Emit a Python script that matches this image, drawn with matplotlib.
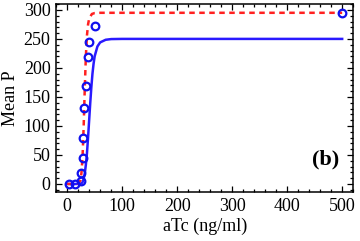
import matplotlib
matplotlib.use('Agg')
import matplotlib.pyplot as plt
from matplotlib.ticker import MultipleLocator

plt.rcParams['font.family'] = ['Liberation Serif', 'DejaVu Serif']

# measured points (open circles)
x_exp = [2.5, 14.5, 25, 25.5, 29.5, 29.7, 31, 34.5, 37, 40.5, 51, 500]
y_exp = [0, 0, 5, 19, 45, 80, 131, 169, 219, 245, 272, 295]

# red dashed curve
x_red = [0, 10, 20, 24, 26, 28, 30, 32, 34, 36, 38, 40, 45, 50, 60, 80, 500]
y_red = [0, 0, 0.5, 6, 19, 47, 99, 164, 220, 256, 275, 285, 293, 294.5, 295, 295, 295]

# blue solid curve
x_blue = [0, 20, 26, 28, 30, 32, 34, 36, 38, 40, 42, 44, 46, 48, 50, 55, 60, 70, 80, 100, 500]
y_blue = [0, 0, 1, 3, 9, 18, 33, 53, 80, 110, 140, 167, 190, 207, 220, 237, 244, 248.5, 249.7, 250, 250]

fig = plt.figure(figsize=(3.6, 2.41), dpi=100)
ax = fig.add_axes([0.156, 0.203, 0.825, 0.78])

ax.plot(x_blue, y_blue, color='#2a1aff', lw=1.8, zorder=2)
ax.plot(x_red, y_red, color='#ff2020', lw=1.8, ls=(0, (2.2, 1.8)), zorder=3)
ax.plot(x_exp, y_exp, 'o', ms=5.5, mfc='none', mec='#1010ee', mew=1.6, zorder=4)

ax.set_xlim(-20, 520)
ax.set_ylim(-14, 310)
ax.xaxis.set_major_locator(MultipleLocator(100))
ax.xaxis.set_minor_locator(MultipleLocator(20))
ax.yaxis.set_major_locator(MultipleLocator(50))
ax.yaxis.set_minor_locator(MultipleLocator(10))
ax.tick_params(which='both', direction='in', top=True, right=True, labelsize=13, width=0.9)
ax.tick_params(which='major', length=4, pad=4)
ax.tick_params(which='minor', length=2)
for s in ax.spines.values():
    s.set_linewidth(1.1)

ax.set_xlabel('aTc (ng/ml)', fontsize=13, labelpad=2)
ax.set_ylabel('Mean P', fontsize=13, labelpad=3)
ax.text(470, 42, '(b)', fontsize=16, fontweight='bold', ha='center', va='center')

fig.savefig('out.png', dpi=100)
